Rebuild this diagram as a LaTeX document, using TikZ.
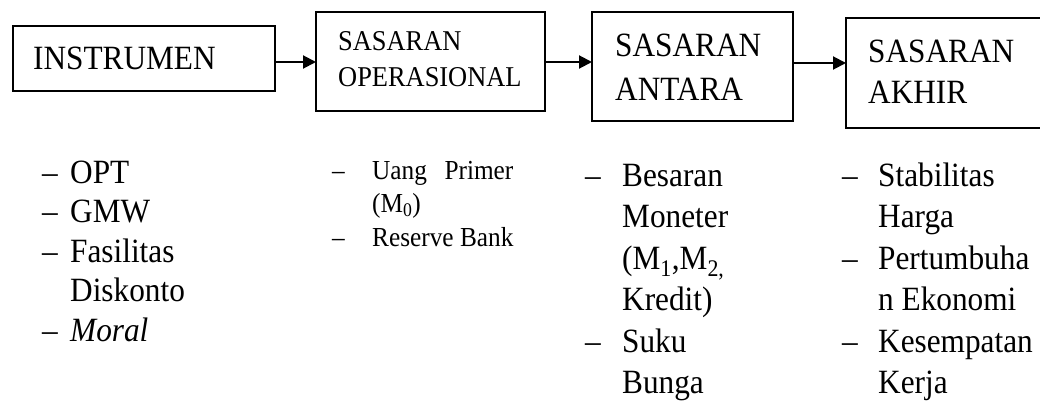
\documentclass[tikz,border=0pt]{standalone}
\usepackage{fontspec}
\usepackage{calc}
\setmainfont{Liberation Serif}[FakeStretch=0.92]
\usetikzlibrary{arrows.meta}
\begin{document}
\begin{tikzpicture}[x=1pt,y=-1pt,
  box/.style={draw, line width=1.6pt, inner sep=0pt, outer sep=0pt, anchor=north west},
  big/.style={anchor=base west, inner sep=0pt, font=\fontsize{34}{40}\selectfont},
  mid/.style={anchor=base west, inner sep=0pt, font=\fontsize{28.7}{35}\selectfont},
  sml/.style={anchor=base west, inner sep=0pt, font=\fontsize{27.5}{33}\selectfont},
  arr/.style={line width=2pt, -{Triangle[length=13pt,width=13pt]}}]
\useasboundingbox (0,0) rectangle (1040,401);
\clip (0,0) rectangle (1040,401);
% boxes
\node[box, minimum width=262pt, minimum height=65pt] (b1) at (13,26) {};
\node[box, minimum width=229pt, minimum height=99pt] (b2) at (316,12) {};
\node[box, minimum width=201pt, minimum height=109pt] (b3) at (592,12) {};
\node[box, minimum width=220pt, minimum height=110pt] (b4) at (846,18) {};
% box texts
\node[big] (t1) at (33,70) {INSTRUMEN};
\node[mid] (t2a) at (338,51) {SASARAN};
\node[mid] (t2b) at (338,87) {OPERASIONAL};
\node[big] (t3a) at (615,57) {SASARAN};
\node[big] (t3b) at (615,100) {ANTARA};
\node[big] (t4a) at (868,63) {SASARAN};
\node[big] (t4b) at (868,104) {AKHIR};
% arrows
\coordinate (y1) at (0,62);
\coordinate (y2) at (0,62);
\coordinate (y3) at (0,63);
\draw[arr] (b1.east |- y1) -- (b2.west |- y1);
\draw[arr] (b2.east |- y2) -- (b3.west |- y2);
\draw[arr] (b3.east |- y3) -- (b4.west |- y3);
% column 1
\node[big] (d11) at (42,183) {–};
\node[big] (c11) at (70,183) {OPT};
\node[big] (d12) at (42,222.5) {–};
\node[big] (c12) at (70,222.5) {GMW};
\node[big] (d13) at (42,262) {–};
\node[big] (c13) at (70,262) {Fasilitas};
\node[big] (c14) at (70,301.5) {Diskonto};
\node[big] (d15) at (42,341) {–};
\node[big] (c15) at (70,341) {\itshape Moral};
% column 2
\node[sml] (d21) at (332,179) {–};
\node[sml] (c21) at (372,179) {\makebox[\widthof{Reserve Bank}][s]{Uang Primer}};
\node[sml] (c22) at (372,212) {(M\textsubscript{0})};
\node[sml] (d23) at (332,246) {–};
\node[sml] (c23) at (372,246) {Reserve Bank};
% column 3
\node[big] (d31) at (585,186) {–};
\node[big] (c31) at (622,186) {Besaran};
\node[big] (c32) at (622,227.5) {Moneter};
\node[big] (c33) at (622,269) {(M\textsubscript{1},M\textsubscript{2,}};
\node[big] (c34) at (622,310.5) {Kredit)};
\node[big] (d35) at (585,352) {–};
\node[big] (c35) at (622,352) {Suku};
\node[big] (c36) at (622,393.5) {Bunga};
% column 4
\node[big] (d41) at (842,186) {–};
\node[big] (c41) at (878,186) {Stabilitas};
\node[big] (c42) at (878,227.5) {Harga};
\node[big] (d43) at (842,269) {–};
\node[big] (c43) at (878,269) {Pertumbuha};
\node[big] (c44) at (878,310.5) {n Ekonomi};
\node[big] (d45) at (842,352) {–};
\node[big] (c45) at (878,352) {Kesempatan};
\node[big] (c46) at (878,393.5) {Kerja};
\end{tikzpicture}
\end{document}
